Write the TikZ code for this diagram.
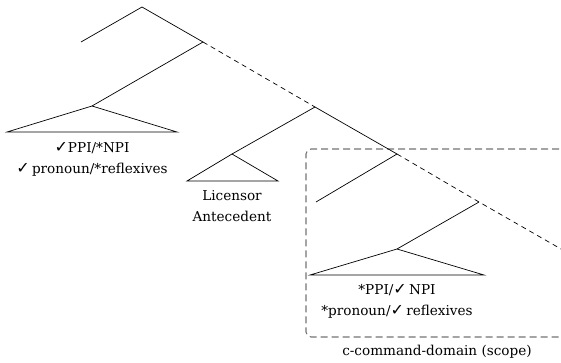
\documentclass[tikz,border=0pt]{standalone}
\usepackage{fontspec}
\setmainfont{DejaVu Serif}
\newfontfamily\checkfont{DejaVu Sans}
\newcommand{\ok}{{\checkfont\bfseries\fontsize{16}{16}\selectfont ✓}}
\begin{document}
\begin{tikzpicture}[x=1pt,y=-1pt,
  branch/.style={line width=0.7pt},
  gap/.style={line width=0.7pt,dash pattern=on 5pt off 4pt},
  scopebox/.style={draw=black!55,line width=1.1pt,dash pattern=on 7pt off 4pt,rounded corners=5pt},
  lbl/.style={font=\fontsize{13.6}{21}\selectfont,align=center,inner sep=0pt}]
\useasboundingbox (0,0) rectangle (561,362);

% tree nodes
\coordinate (root) at (142,7);
\coordinate (lf) at (81,42);
\coordinate (A) at (203,42);
\coordinate (B) at (315,107);
\coordinate (C) at (397,154);
\coordinate (Cl) at (316,202);
\coordinate (D) at (479,202);
\coordinate (end) at (561,249);

% triangles: apex and base corners
\coordinate (t1) at (92,106);
\coordinate (t1l) at (7,132);
\coordinate (t1r) at (177,132);
\coordinate (t2) at (232,154);
\coordinate (t2l) at (187,181);
\coordinate (t2r) at (278,181);
\coordinate (t3) at (397,249);
\coordinate (t3l) at (310,275);
\coordinate (t3r) at (484,275);

% scope of c-command
\draw[scopebox] (570,149) -- (306,149) -- (306,337) -- (570,337);
\node[lbl] (scope) at (437,352) {c-command-domain (scope)};

% branches
\draw[branch] (lf) -- (root) -- (A);
\draw[branch] (A) -- (t1);
\draw[gap] (A) -- (B);
\draw[branch] (B) -- (C);
\draw[branch] (B) -- (t2);
\draw[branch] (C) -- (Cl);
\draw[gap] (C) -- (D) -- (end);
\draw[branch] (D) -- (t3);

\draw[branch] (t1) -- (t1l) -- (t1r) -- cycle;
\draw[branch] (t2) -- (t2l) -- (t2r) -- cycle;
\draw[branch] (t3) -- (t3l) -- (t3r) -- cycle;

% labels under the triangles
\node[lbl,anchor=north] (l1) at (92,142) {\ok PPI/*NPI\\\ok\,pronoun/*reflexives};
\node[lbl,anchor=north] (l2) at (232,190) {Licensor\\Antecedent};
\node[lbl,anchor=north] (l3) at (397,284) {*PPI/\ok\,NPI\\*pronoun/\ok\,reflexives};
\end{tikzpicture}
\end{document}
